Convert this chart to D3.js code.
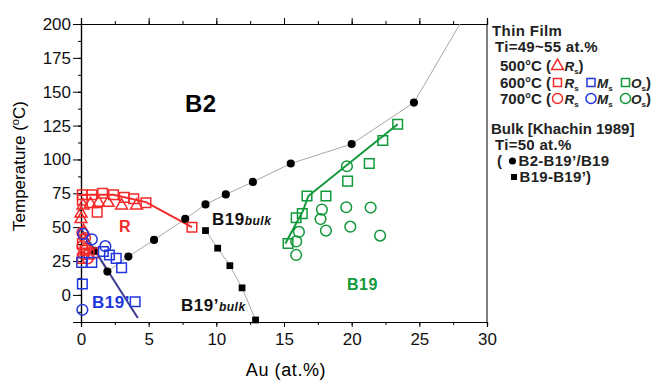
<!DOCTYPE html>
<html>
<head>
<meta charset="utf-8">
<script src="https://d3js.org/d3.v7.min.js"></script>
<style>
  body { margin: 0; background: #fff; }
  svg { display: block; font-family: "Liberation Sans", Arial, sans-serif; }
</style>
</head>
<body>
<div id="chart"></div>
<script>
// ---- data: [Au at.%, temperature degC] ----
var xTicks = [0, 5, 10, 15, 20, 25, 30];
var yTicks = [0, 25, 50, 75, 100, 125, 150, 175, 200];

// thin film, 500 C, Rs (triangles)
var rs500 = [[0, 56], [0, 60], [0.15, 66], [0.7, 67], [1.3, 68], [2.0, 68], [3.0, 66], [4.1, 66], [0.2, 47]];
// thin film, 600 C
var rs600 = [[0.1, 74], [0.8, 74], [1.6, 75], [2.4, 74], [3.2, 72], [3.9, 71], [4.8, 68], [0.1, 70], [1.2, 61], [8.2, 50],
             [0.1, 38], [0.3, 33], [0.6, 30], [0.1, 27], [0.9, 31]];
var ms600 = [[0.05, 24], [0.8, 24], [1.65, 32], [2.1, 29.5], [2.6, 27], [3.0, 20], [0.1, 8], [4.0, -5]];
var os600 = [[15.3, 38], [15.9, 57], [16.35, 60], [16.7, 73], [18.1, 73], [19.7, 84], [21.3, 97], [22.3, 114], [23.4, 126]];
// thin film, 700 C
var rs700 = [[0.1, 46], [0.3, 42], [0.1, 36], [0.4, 34], [0.2, 30], [0.5, 27]];
var ms700 = [[0.15, 45], [0.8, 41], [1.8, 36], [0.1, -11]];
var os700 = [[15.9, 29.5], [15.9, 39.5], [16.1, 46.5], [17.7, 56], [17.8, 63], [18.1, 47.5], [19.6, 64.7],
             [19.65, 95], [19.9, 50.4], [21.4, 64.5], [22.1, 43.8]];
// bulk, Khachin 1989
var bulkB2 = [[1.0, 32.5], [1.95, 17.2], [3.5, 28.3], [5.4, 40.6], [7.7, 56.1], [9.2, 66.8], [10.7, 74.2],
              [12.7, 83.4], [15.5, 97], [20.0, 111.4], [24.6, 142]];
var bulkB2End = [28, 200];
var bulkB19 = [[9.2, 47.5], [10.1, 34.5], [11.0, 21.6], [11.9, 5.2], [12.9, -18.5]];
// guide lines
var rsLine = [[0, 74], [2.4, 74], [4.8, 68.5], [8.2, 50]];
var msLine = [[0, 49], [4.2, -17]];
var osLine = [[15.1, 38], [16.4, 62], [16.8, 73], [23.4, 126]];

(function(){
    "use strict";
    var width = 654, height = 381;
    var RED = "#f42a2a", BLUE = "#2236e0", GREEN = "#11993a", NAVY = "#3a3a90", GRAY = "#a8a8a8";

    var svg = d3.select("#chart").append("svg")
        .attr("width", width)
        .attr("height", height);

    var x = d3.scaleLinear().domain([0, 30]).range([81, 487]);
    var y = d3.scaleLinear().domain([-20, 200]).range([322, 24]);

    //frame + axes
    var minorX = d3.range(0, 30.01, 2.5);
    var minorY = d3.range(-12.5, 200.01, 12.5);

    svg.append("g")
        .attr("transform", "translate(0," + y(-20) + ")")
        .call(d3.axisBottom(x).tickValues(minorX).tickSize(3).tickFormat(""));
    svg.append("g")
        .attr("transform", "translate(0," + y(-20) + ")")
        .call(d3.axisBottom(x).tickValues(xTicks).tickSize(5).tickPadding(6).tickFormat(d3.format("d")));
    svg.append("g")
        .attr("transform", "translate(0," + y(200) + ")")
        .call(d3.axisTop(x).tickValues(minorX).tickSize(3).tickFormat(""));
    svg.append("g")
        .attr("transform", "translate(0," + y(200) + ")")
        .call(d3.axisTop(x).tickValues(xTicks).tickSize(6).tickFormat(""));
    svg.append("g")
        .attr("transform", "translate(" + x(0) + ",0)")
        .call(d3.axisLeft(y).tickValues(minorY).tickSize(3).tickFormat(""));
    svg.append("g")
        .attr("transform", "translate(" + x(0) + ",0)")
        .call(d3.axisLeft(y).tickValues(yTicks).tickSize(8).tickPadding(2).tickFormat(d3.format("d")));
    svg.append("line")
        .attr("x1", x(30)).attr("x2", x(30))
        .attr("y1", y(-20)).attr("y2", y(200))
        .attr("stroke", "#000");

    svg.selectAll(".domain").attr("stroke", "#000").attr("stroke-width", 1.2);
    svg.selectAll(".tick line").attr("stroke", "#000");
    svg.selectAll(".tick text")
        .attr("fill", "#111")
        .style("font-size", "17px")
        .style("font-family", "'Liberation Sans', Arial, sans-serif");

    //axis titles
    svg.append("text")
        .attr("x", x(15) + 2).attr("y", 376)
        .attr("text-anchor", "middle")
        .style("font-size", "18px")
        .style("letter-spacing", "0.6px")
        .text("Au (at.%)");
    var yt = svg.append("text")
        .attr("transform", "translate(25," + 166 + ") rotate(-90)")
        .attr("text-anchor", "middle")
        .style("font-size", "17px");
    yt.append("tspan").text("Temperature (");
    yt.append("tspan").attr("dy", -6).style("font-size", "11px").text("o");
    yt.append("tspan").attr("dy", 6).text("C)");

    //lines
    var line = d3.line()
        .x(function(d){return x(d[0]);})
        .y(function(d){return y(d[1]);});
    var plot = svg.append("g");

    plot.append("path").datum(bulkB2.concat([bulkB2End]))
        .attr("d", line).attr("fill", "none").attr("stroke", GRAY).attr("stroke-width", 1);
    plot.append("path").datum(bulkB19)
        .attr("d", line).attr("fill", "none").attr("stroke", GRAY).attr("stroke-width", 1);
    plot.append("path").datum(rsLine)
        .attr("d", line).attr("fill", "none").attr("stroke", RED).attr("stroke-width", 2);
    plot.append("path").datum(msLine)
        .attr("d", line).attr("fill", "none").attr("stroke", NAVY).attr("stroke-width", 2);
    plot.append("path").datum(osLine)
        .attr("d", line).attr("fill", "none").attr("stroke", GREEN).attr("stroke-width", 2);

    //markers
    function markers(data, type, size, color, filled){
        plot.append("g").selectAll("path")
            .data(data)
            .enter().append("path")
            .attr("transform", function(d){return "translate(" + x(d[0]) + "," + y(d[1]) + ")";})
            .attr("d", d3.symbol().type(type).size(size))
            .attr("fill", filled ? color : "none")
            .attr("stroke", filled ? "none" : color)
            .attr("stroke-width", 1.5);
    }
    markers(bulkB2, d3.symbolCircle, 52, "#000", true);
    markers(bulkB19, d3.symbolSquare, 46, "#000", true);
    markers(rs500, d3.symbolTriangle, 62, RED, false);
    markers(rs600, d3.symbolSquare, 92, RED, false);
    markers(rs700, d3.symbolCircle, 90, RED, false);
    markers(ms600, d3.symbolSquare, 92, BLUE, false);
    markers(ms700, d3.symbolCircle, 90, BLUE, false);
    markers(os600, d3.symbolSquare, 92, GREEN, false);
    markers(os700, d3.symbolCircle, 90, GREEN, false);

    //region labels
    function label(px, py, txt, size, color, sub){
        var t = svg.append("text")
            .attr("x", px).attr("y", py)
            .attr("fill", color)
            .style("font-size", size + "px")
            .style("font-weight", "bold")
            .style("letter-spacing", "0.5px")
            .text(txt);
        if(sub){
            t.append("tspan")
                .style("font-size", "12px")
                .style("font-style", "italic")
                .text(sub);
        }
    }
    label(185, 112, "B2", 24, "#000");
    label(119, 232, "R", 16, RED);
    label(92, 308, "B19\u2019", 17, BLUE);
    label(347, 290, "B19", 16, GREEN);
    label(212, 225, "B19", 17, "#111", "bulk");
    label(181, 311, "B19\u2019", 17, "#111", "bulk");

    //legend
    var lg = svg.append("g")
        .style("font-size", "15px")
        .style("font-weight", "bold")
        .attr("fill", "#222");
    function ltext(px, py, txt){
        return lg.append("text").attr("x", px).attr("y", py).text(txt);
    }
    function lsym(px, py, type, size, color, filled){
        lg.append("path")
            .attr("transform", "translate(" + px + "," + py + ")")
            .attr("d", d3.symbol().type(type).size(size))
            .attr("fill", filled ? color : "none")
            .attr("stroke", filled ? "none" : color)
            .attr("stroke-width", 1.5);
    }
    function lvar(px, py, letter){
        var t = ltext(px, py, letter).style("font-style", "italic").style("font-size", "13.5px");
        t.append("tspan").attr("dy", 3).style("font-size", "8px").style("font-style", "normal").text("s");
    }
    ltext(492, 36, "Thin Film").style("letter-spacing", "0.4px");
    ltext(495, 52, "Ti=49~55 at.%").style("letter-spacing", "0.3px");

    ltext(500, 71, "500\u00b0C (");
    lsym(557.5, 66, d3.symbolTriangle, 62, RED, false);
    lvar(564.5, 71, "R");
    ltext(578.5, 71, ")");

    ltext(500, 88, "600\u00b0C (");
    lsym(557.5, 82.5, d3.symbolSquare, 64, RED, false);
    lvar(564.5, 88, "R");
    lsym(591, 82.5, d3.symbolSquare, 64, BLUE, false);
    lvar(597, 88, "M");
    lsym(625.5, 82.5, d3.symbolSquare, 64, GREEN, false);
    lvar(631, 88, "O");
    ltext(646, 88, ")");

    ltext(500, 104, "700\u00b0C (");
    lsym(557.5, 98.5, d3.symbolCircle, 80, RED, false);
    lvar(564.5, 104, "R");
    lsym(591, 98.5, d3.symbolCircle, 80, BLUE, false);
    lvar(597, 104, "M");
    lsym(625.5, 98.5, d3.symbolCircle, 80, GREEN, false);
    lvar(631, 104, "O");
    ltext(646, 104, ")");

    ltext(491, 134, "Bulk [Khachin 1989]");
    ltext(495, 150, "Ti=50 at.%").style("letter-spacing", "0.3px");
    ltext(497, 166, "(");
    lsym(512.5, 161, d3.symbolCircle, 40, "#000", true);
    ltext(518.5, 166, "B2-B19\u2019/B19").style("letter-spacing", "0.3px");
    lsym(514, 177, d3.symbolSquare, 36, "#000", true);
    ltext(519.5, 182, "B19-B19\u2019)").style("letter-spacing", "0.3px");
})();
</script>
</body>
</html>
